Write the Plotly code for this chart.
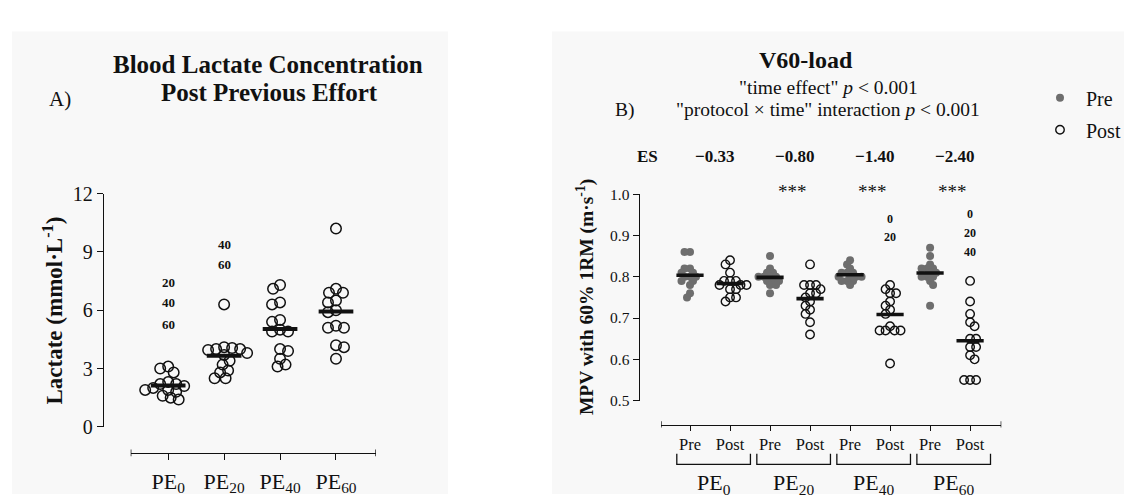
import numpy as np
import plotly.graph_objects as go

W, H = 1132, 497
FONT = "Liberation Serif"
INK = "#111111"
GRAY = "#6e6e6e"


def px(x):
    return x / W


def py(y):
    return 1 - y / H


# ---------------- data ----------------
lac_labels = ["PE<sub>0</sub>", "PE<sub>20</sub>", "PE<sub>40</sub>", "PE<sub>60</sub>"]
lac_pe0 = [3.1, 3.0, 2.8, 2.3, 2.2, 2.2, 2.1, 2.0, 1.9, 1.9, 1.8, 1.6, 1.5, 1.4]
lac_pe20 = [6.3, 4.1, 4.05, 4.0, 4.0, 3.95, 3.8, 3.7, 3.4, 3.2, 2.9, 2.8, 2.5, 2.5]
lac_pe40 = [7.3, 7.1, 6.4, 6.3, 5.5, 5.4, 5.0, 4.9, 4.9, 4.0, 3.9, 3.5, 3.2, 3.1]
lac_pe60 = [10.2, 7.1, 6.9, 6.9, 6.5, 6.4, 6.0, 5.9, 5.2, 5.1, 5.1, 4.2, 4.1, 3.5]
lac_ticks = [0, 3, 6, 9, 12]

mpv_groups = ["PE<sub>0</sub>", "PE<sub>20</sub>", "PE<sub>40</sub>", "PE<sub>60</sub>"]
mpv_time_labels = ["Pre", "Post"]
mpv_pre_pe0 = [0.86, 0.86, 0.82, 0.82, 0.81, 0.81, 0.80, 0.80, 0.80, 0.79, 0.79, 0.78, 0.76, 0.75]
mpv_post_pe0 = [0.84, 0.83, 0.81, 0.79, 0.79, 0.79, 0.78, 0.78, 0.78, 0.77, 0.77, 0.75, 0.75, 0.74]
mpv_pre_pe20 = [0.85, 0.82, 0.81, 0.81, 0.80, 0.80, 0.80, 0.80, 0.79, 0.79, 0.79, 0.78, 0.78, 0.76]
mpv_post_pe20 = [0.83, 0.78, 0.78, 0.78, 0.77, 0.76, 0.76, 0.75, 0.74, 0.73, 0.72, 0.71, 0.69, 0.66]
mpv_pre_pe40 = [0.84, 0.83, 0.82, 0.81, 0.81, 0.81, 0.80, 0.80, 0.80, 0.80, 0.79, 0.79, 0.79, 0.78]
mpv_post_pe40 = [0.78, 0.77, 0.76, 0.76, 0.74, 0.73, 0.72, 0.71, 0.68, 0.67, 0.67, 0.67, 0.67, 0.59]
mpv_pre_pe60 = [0.87, 0.85, 0.83, 0.82, 0.82, 0.82, 0.81, 0.81, 0.80, 0.80, 0.80, 0.79, 0.78, 0.73]
mpv_post_pe60 = [0.79, 0.74, 0.71, 0.69, 0.68, 0.65, 0.65, 0.63, 0.63, 0.61, 0.60, 0.55, 0.55, 0.55]
mpv_ticks = [0.5, 0.6, 0.7, 0.8, 0.9, 1.0]
effect_sizes = ["\u22120.33", "\u22120.80", "\u22121.40", "\u22122.40"]

# significance labels: (category index, y value, text)
lac_sig = [(0, 7.45, "20"), (0, 6.39, "40"), (0, 5.28, "60"),
           (1, 9.39, "40"), (1, 8.33, "60")]
mpv_sig = [(5, 0.940, "0"), (5, 0.896, "20"),
           (7, 0.952, "0"), (7, 0.905, "20"), (7, 0.860, "40")]
mpv_star_groups = [1, 2, 3]

lac_sets = [lac_pe0, lac_pe20, lac_pe40, lac_pe60]
mpv_pre = [mpv_pre_pe0, mpv_pre_pe20, mpv_pre_pe40, mpv_pre_pe60]
mpv_post = [mpv_post_pe0, mpv_post_pe20, mpv_post_pe40, mpv_post_pe60]

# ---------------- geometry ----------------
L_X0, L_X1 = 122.7, 367.7          # left x-axis line (px)
L_XR = (-0.67, 3.71)
L_Y0, L_Y1 = 426.7, 182.7          # y=0 / y=12 (px)
L_YAX = 95.0
L_XAX = 454.0

R_X0, R_X1 = 653.3, 993.3
R_XR = (-0.7175, 7.78)
R_Y0, R_Y1 = 399.3, 183.3          # 0.5 / 1.0
R_YAX = 630.7
R_XAX = 424.3

l_xppu = (L_X1 - L_X0) / (L_XR[1] - L_XR[0])
l_yppu = (L_Y0 - L_Y1) / 12.0
r_xppu = (R_X1 - R_X0) / (R_XR[1] - R_XR[0])
r_yppu = (R_Y0 - R_Y1) / 0.5


def swarm(vals, sep, xppu, yppu):
    ys = np.asarray(vals, float) * yppu
    order = np.argsort(-ys, kind="stable")
    placed = []
    offs = np.zeros(len(ys))
    for n, i in enumerate(order):
        y = ys[i]
        k = 0
        found = None
        sgn = 1 if n % 2 == 0 else -1
        while found is None:
            cands = [0.0] if k == 0 else [sgn * k * 0.5, -sgn * k * 0.5]
            for c in cands:
                if all((c - a) ** 2 + (y - b) ** 2 >= sep ** 2 for a, b in placed):
                    found = c
                    break
            k += 1
        placed.append((found, y))
        offs[i] = found / xppu
    return offs


fig = go.Figure()

# ---- left panel points ----
lx, ly = [], []
for ci, vals in enumerate(lac_sets):
    o = swarm(vals, 8.0, l_xppu, l_yppu)
    lx += list(ci + o)
    ly += list(vals)
fig.add_trace(go.Scatter(
    x=lx, y=ly, mode="markers", xaxis="x", yaxis="y", showlegend=False,
    cliponaxis=False,
    marker=dict(symbol="circle-open", size=10.5, color=INK, line=dict(width=1.5, color=INK))))

mx, my = [], []
for ci, vals in enumerate(lac_sets):
    m = float(np.mean(vals))
    mx += [ci - 0.31, ci + 0.31, None]
    my += [m, m, None]
fig.add_trace(go.Scatter(x=mx, y=my, mode="lines", xaxis="x", yaxis="y",
                         showlegend=False, cliponaxis=False,
                         line=dict(color=INK, width=4)))

# ---- right panel points ----
px_pre, py_pre, px_post, py_post = [], [], [], []
for g in range(4):
    o = swarm(mpv_pre[g], 5.2, r_xppu, r_yppu)
    px_pre += list(2 * g + o)
    py_pre += list(mpv_pre[g])
    o = swarm(mpv_post[g], 6.0, r_xppu, r_yppu)
    px_post += list(2 * g + 1 + o)
    py_post += list(mpv_post[g])

fig.add_trace(go.Scatter(
    x=px_pre, y=py_pre, mode="markers", xaxis="x2", yaxis="y2", name="Pre",
    legendgroup="pre", cliponaxis=False,
    marker=dict(symbol="circle", size=8, color=GRAY, line=dict(width=0))))
fig.add_trace(go.Scatter(
    x=px_post, y=py_post, mode="markers", xaxis="x2", yaxis="y2", name="Post",
    legendgroup="post", cliponaxis=False,
    marker=dict(symbol="circle-open", size=8.5, color=INK, line=dict(width=1.4, color=INK))))

mx, my = [], []
for g in range(4):
    for k, vals in enumerate([mpv_pre[g], mpv_post[g]]):
        c = 2 * g + k
        m = float(np.mean(vals))
        mx += [c - 0.34, c + 0.34, None]
        my += [m, m, None]
fig.add_trace(go.Scatter(x=mx, y=my, mode="lines", xaxis="x2", yaxis="y2",
                         showlegend=False, cliponaxis=False,
                         line=dict(color=INK, width=3.6)))

# ---------------- annotations ----------------
ann = []


def txt(x, y, text, size, **kw):
    d = dict(x=px(x), y=py(y), xref="paper", yref="paper", text=text, showarrow=False,
             font=dict(family=FONT, size=size, color=INK), xanchor="center", yanchor="middle")
    d.update(kw)
    ann.append(d)


txt(260, 47.7, "<b>Blood Lactate Concentration</b>", 25)
txt(261, 77.3, "<b>Post Previous Effort</b>", 25)
txt(52, 83.3, "A)", 21)
txt(45, 305, "<b>Lactate (mmol\u00b7L<sup>-1</sup>)</b>", 23, textangle=-90)

txt(798, 43.3, "<b>V60-load</b>", 24)
txt(820, 71.7, "\"time effect\" <i>p</i> &lt; 0.001", 19.5)
txt(617, 95, "B)", 19.5)
txt(820, 95, "\"protocol \u00d7 time\" interaction <i>p</i> &lt; 0.001", 19.5)
txt(577, 291, "<b>MPV with 60% 1RM (m\u00b7s<sup>-1</sup>)</b>", 19.5, textangle=-90)

txt(639, 144, "<b>ES</b>", 17)
for g, es in enumerate(effect_sizes):
    ann.append(dict(x=2 * g + 0.62, y=py(144), xref="x2", yref="paper", text="<b>%s</b>" % es,
                    showarrow=False, font=dict(family=FONT, size=17, color=INK),
                    xanchor="center", yanchor="middle"))
for g in mpv_star_groups:
    ann.append(dict(x=2 * g + 0.55, y=py(181), xref="x2", yref="paper", text="***",
                    showarrow=False, font=dict(family=FONT, size=19, color=INK),
                    xanchor="center", yanchor="middle"))

for ci, yv, t in lac_sig:
    ann.append(dict(x=ci, y=yv, xref="x", yref="y", text="<b>%s</b>" % t, showarrow=False,
                    font=dict(family=FONT, size=13, color=INK), xanchor="center", yanchor="middle"))
for ci, yv, t in mpv_sig:
    ann.append(dict(x=ci, y=yv, xref="x2", yref="y2", text="<b>%s</b>" % t, showarrow=False,
                    font=dict(family=FONT, size=12, color=INK), xanchor="center", yanchor="middle"))

# group labels under brackets
shapes = []
for g, lab in enumerate(mpv_groups):
    a, b = 2 * g - 0.33, 2 * g + 1 + 0.51
    shapes.append(dict(type="path", xref="x2", yref="paper",
                       path="M %f,%f L %f,%f L %f,%f L %f,%f" % (a, py(455), a, py(466), b, py(466), b, py(455)),
                       line=dict(color=INK, width=1.3)))
    ann.append(dict(x=(a + b) / 2, y=py(487), xref="x2", yref="paper", text=lab, showarrow=False,
                    font=dict(family=FONT, size=22, color=INK), xanchor="center", yanchor="middle"))

# axis end caps
for xv in L_XR:
    shapes.append(dict(type="line", xref="x", yref="paper", x0=xv, x1=xv, y0=py(450.5), y1=py(457.5),
                       line=dict(color=INK, width=1.4)))
for xv in R_XR:
    shapes.append(dict(type="line", xref="x2", yref="paper", x0=xv, x1=xv, y0=py(421), y1=py(427.5),
                       line=dict(color=INK, width=1.3)))

# light panel backgrounds
shapes.append(dict(type="rect", xref="paper", yref="paper", x0=px(4), x1=px(440), y0=0, y1=py(13),
                   fillcolor="#f8f8f8", line=dict(width=0), layer="below"))
shapes.append(dict(type="rect", xref="paper", yref="paper", x0=px(544), x1=1, y0=0, y1=py(13),
                   fillcolor="#f8f8f8", line=dict(width=0), layer="below"))

axis_common = dict(showgrid=False, zeroline=False, showline=True, linecolor=INK,
                   ticks="outside", tickcolor=INK)

fig.update_layout(
    width=W, height=H, margin=dict(l=0, r=0, t=0, b=0),
    paper_bgcolor="white", plot_bgcolor="rgba(0,0,0,0)",
    font=dict(family=FONT, color=INK),
    xaxis=dict(domain=[px(L_X0), px(L_X1)], range=list(L_XR), anchor="free", position=py(L_XAX),
               tickvals=list(range(4)), ticktext=lac_labels, ticklen=6, tickwidth=1.4, linewidth=1.4,
               tickfont=dict(family=FONT, size=22, color=INK), ticklabelstandoff=2, **axis_common),
    yaxis=dict(domain=[py(L_Y0), py(L_Y1)], range=[0, 12], anchor="free", position=px(L_YAX),
               tickvals=lac_ticks, ticklen=6, tickwidth=1.4, linewidth=1.4,
               tickfont=dict(family=FONT, size=20, color=INK), **axis_common),
    xaxis2=dict(domain=[px(R_X0), px(R_X1)], range=list(R_XR), anchor="free", position=py(R_XAX),
                tickvals=list(range(8)), ticktext=mpv_time_labels * 4, ticklen=5, tickwidth=1.3,
                linewidth=1.3, tickfont=dict(family=FONT, size=16.5, color=INK), **axis_common),
    yaxis2=dict(domain=[py(R_Y0), py(R_Y1)], range=[0.5, 1.0], anchor="free", position=px(R_YAX),
                tickvals=mpv_ticks, tickformat=".1f", ticklen=6, tickwidth=1.3, linewidth=1.3,
                tickfont=dict(family=FONT, size=15.5, color=INK), **axis_common),
    legend=dict(x=px(1026), y=py(62), xanchor="left", yanchor="top", traceorder="grouped",
                tracegroupgap=3, itemwidth=42, bgcolor="rgba(0,0,0,0)",
                font=dict(family=FONT, size=20, color=INK)),
    annotations=ann, shapes=shapes,
)

fig.write_html("out.html")
